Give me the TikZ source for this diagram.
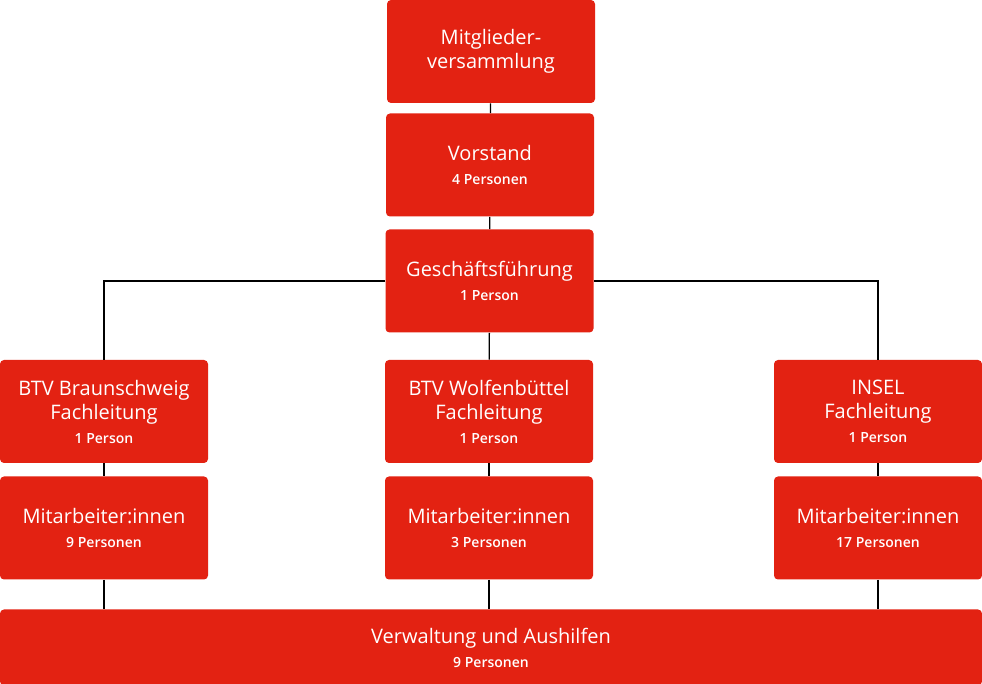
\documentclass[tikz,border=0pt]{standalone}
\usepackage{fontspec}
\setmainfont{Open Sans}
\IfFontExistsTF{Open Sans Semibold}
  {\newfontfamily\anzfont{Open Sans Semibold}}
  {\newfontfamily\anzfont{Open Sans}[UprightFont=*-Bold]}
\definecolor{orgred}{HTML}{E32212}
\newcommand{\anz}[1]{\\[0pt]{\anzfont\fontsize{7}{9}\selectfont #1}}
\begin{document}
\begin{tikzpicture}[x=0.5pt,y=-0.5pt,
  orgbox/.style={fill=orgred, rounded corners=2pt, text=white, align=center,
    minimum width=104pt, minimum height=51.5pt, inner sep=0pt,
    font=\fontsize{10}{12}\selectfont},
  link/.style={draw=black, line width=0.7pt}]
\useasboundingbox (0,0) rectangle (982,684);
% obere Ebene
\node[orgbox] (mv) at (491,51.5) {Mitglieder-\\versammlung};
\node[orgbox] (vs) at (490,165) {Vorstand\anz{4 Personen}};
\node[orgbox] (gf) at (489.5,281) {Geschäftsführung\anz{1 Person}};
% Fachleitungen
\node[orgbox] (bs) at (104,411.5) {BTV Braunschweig\\Fachleitung\anz{1 Person}};
\node[orgbox] (wf) at (489,411.5) {BTV Wolfenbüttel\\Fachleitung\anz{1 Person}};
\node[orgbox] (in) at (878,411.5) {INSEL\\Fachleitung\anz{1 Person}};
% Mitarbeiter
\node[orgbox] (mab) at (104,528) {Mitarbeiter:innen\anz{9 Personen}};
\node[orgbox] (maw) at (489,528) {Mitarbeiter:innen\anz{3 Personen}};
\node[orgbox] (mai) at (878,528) {Mitarbeiter:innen\anz{17 Personen}};
\node[orgbox, minimum width=491pt, minimum height=38pt] (vw) at (491,647.5)
  {Verwaltung und Aushilfen\anz{9 Personen}};
% Linien
\draw[link] (mv) -- (vs);
\draw[link] (vs) -- (gf);
\draw[link] (gf) -- (wf);
\draw[link] (gf.west) -| (bs.north);
\draw[link] (gf.east) -| (in.north);
\draw[link] (bs) -- (mab);
\draw[link] (wf) -- (maw);
\draw[link] (in) -- (mai);
\draw[link] (mab.south) -- (mab.south |- vw.north);
\draw[link] (maw.south) -- (maw.south |- vw.north);
\draw[link] (mai.south) -- (mai.south |- vw.north);
\end{tikzpicture}
\end{document}
